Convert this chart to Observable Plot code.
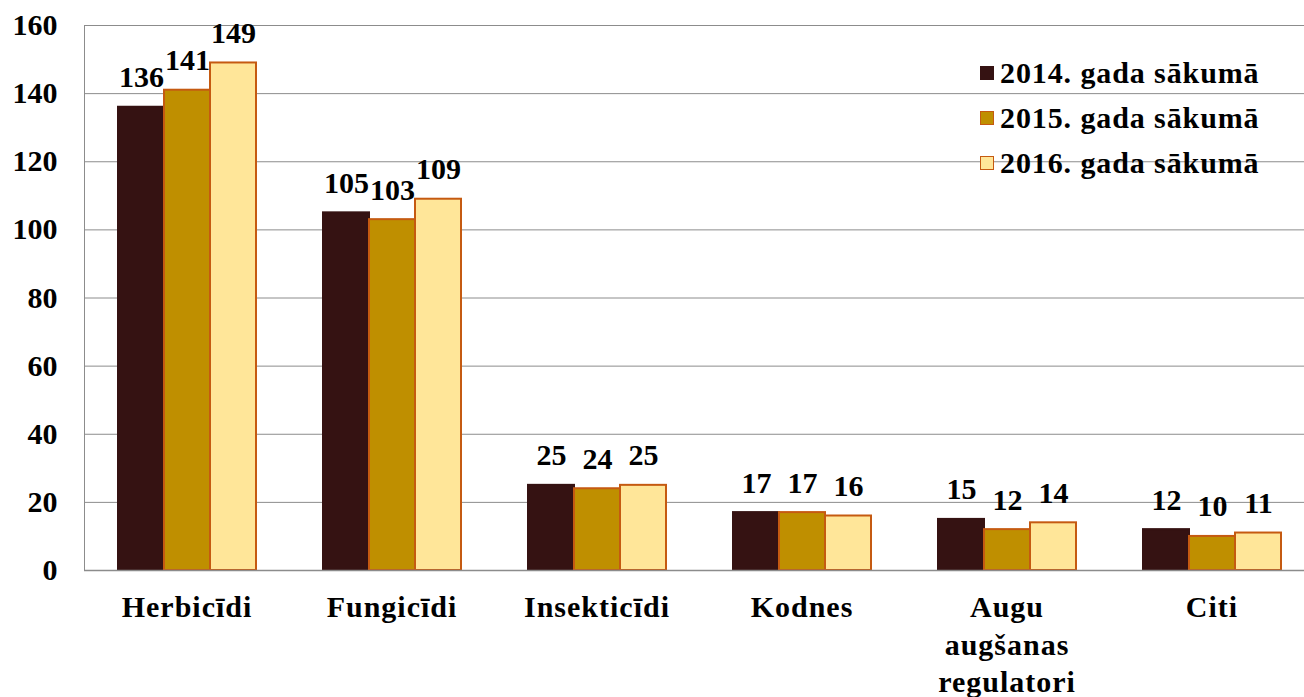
<!DOCTYPE html>
<html>
<head>
<meta charset="utf-8">
<script src="https://cdn.jsdelivr.net/npm/d3@7"></script>
<script src="https://cdn.jsdelivr.net/npm/@observablehq/plot@0.6"></script>
<style>
  html, body { margin: 0; padding: 0; background: #fff; }
  #wrap { position: relative; width: 1304px; height: 697px; overflow: hidden; }
  #legend { position: absolute; left: 980px; top: 50px; font-family: "Liberation Serif", "Times New Roman", Times, serif; font-weight: bold; font-size: 30px; color: #000; letter-spacing: 0.9px; }
  #legend .row { display: flex; align-items: center; height: 45px; white-space: nowrap; }
  #legend .sw { width: 12px; height: 12px; margin-right: 6px; box-sizing: content-box; }
  svg g[aria-label="fx-axis tick label"] text { letter-spacing: 1px; }
</style>
</head>
<body>
<div id="wrap"><div id="legend"></div></div>
<script>
const categories = ["Herbicīdi", "Fungicīdi", "Insekticīdi", "Kodnes", "Augu augšanas regulatori", "Citi"];
const categoryLabels = ["Herbicīdi", "Fungicīdi", "Insekticīdi", "Kodnes", "Augu\naugšanas\nregulatori", "Citi"];
const years = ["2014. gada sākumā", "2015. gada sākumā", "2016. gada sākumā"];
const values2014 = [136, 105, 25, 17, 15, 12];
const values2015 = [141, 103, 24, 17, 12, 10];
const values2016 = [149, 109, 25, 16, 14, 11];
const yTicks = [0, 20, 40, 60, 80, 100, 120, 140, 160];

const fills = ["#351212", "#bf8f00", "#ffe699"];
const strokes = ["#351212", "#c55a11", "#c55a11"];

const seriesValues = [values2014, values2015, values2016];
const data = [];
categories.forEach((c, i) => {
  years.forEach((y, j) => {
    data.push({category: c, year: y, value: seriesValues[j][i], stroke: strokes[j]});
  });
});
const labelOf = new Map(categories.map((c, i) => [c, categoryLabels[i]]));

const font = "'Liberation Serif', 'Times New Roman', Times, serif";
const plot = Plot.plot({
  width: 1304,
  height: 697,
  marginLeft: 84,
  marginRight: -10,
  marginTop: 25,
  marginBottom: 127,
  style: {fontFamily: font, fontWeight: "bold", color: "#000", background: "#fff", overflow: "hidden"},
  fx: {domain: categories, padding: 0, label: null},
  x: {domain: years, paddingInner: 0, paddingOuter: 0.714, axis: null},
  y: {domain: [0, 160], label: null},
  color: {domain: years, range: fills},
  marks: [
    Plot.gridY(yTicks, {stroke: "#8c8c8c", strokeOpacity: 1, strokeWidth: 1}),
    Plot.frame({anchor: "left", facetAnchor: "left", stroke: "#8c8c8c"}),
    Plot.barY(data, {fx: "category", x: "year", y: "value", fill: "year", stroke: "stroke", strokeWidth: 2, insetLeft: 0, insetRight: 0}),
    Plot.text(data, {fx: "category", x: "year", y: "value", text: d => String(d.value), lineAnchor: "bottom", dy: -20, fontSize: 30, fontWeight: "bold", fill: "#000"}),
    Plot.axisY(yTicks, {tickSize: 0, tickPadding: 27, fontSize: 30, fontWeight: "bold", label: null, fill: "#000"}),
    Plot.axisFx({anchor: "bottom", tickSize: 0, tickPadding: 20, fontSize: 30, fontWeight: "bold", lineHeight: 1.25, label: null, tickFormat: d => labelOf.get(d), fill: "#000"}),
    Plot.ruleY([0], {stroke: "#8c8c8c", strokeWidth: 1.5})
  ]
});
document.getElementById("wrap").prepend(plot);

const legend = document.getElementById("legend");
years.forEach((y, j) => {
  const row = document.createElement("div");
  row.className = "row";
  const sw = document.createElement("span");
  sw.className = "sw";
  sw.style.background = fills[j];
  sw.style.border = "1px solid " + strokes[j];
  const t = document.createElement("span");
  t.textContent = y;
  row.append(sw, t);
  legend.append(row);
});
</script>
</body>
</html>
